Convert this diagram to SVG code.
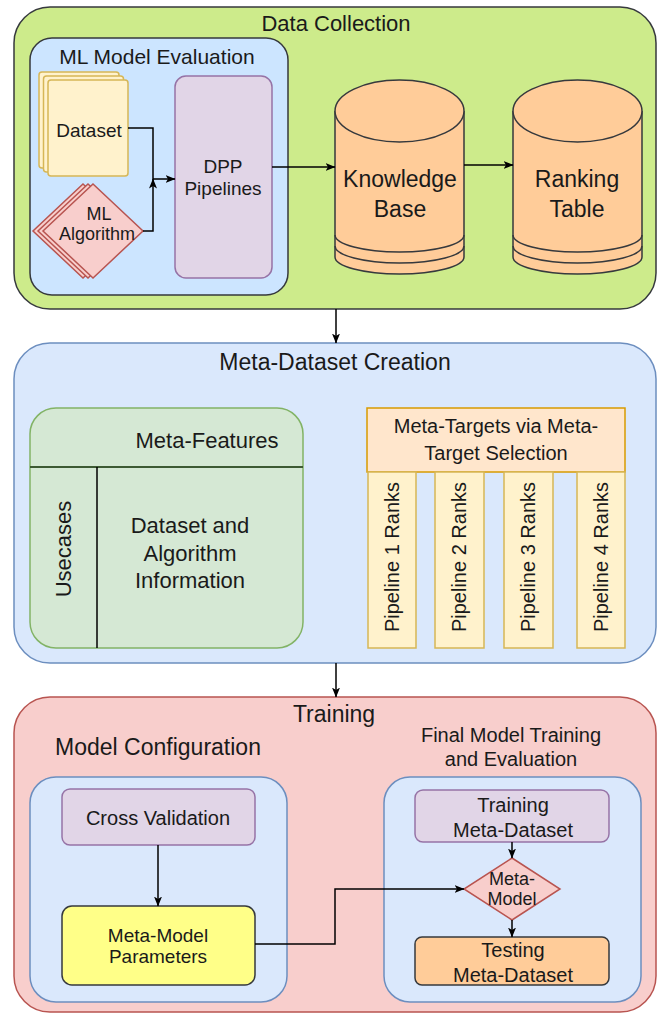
<svg xmlns="http://www.w3.org/2000/svg" width="663" height="1015" viewBox="0 0 663 1015">
  <defs>
    <marker id="arrow" viewBox="0 0 10 8" refX="9.5" refY="4" markerWidth="10" markerHeight="8" markerUnits="userSpaceOnUse" orient="auto">
      <path d="M0,0 L10,4 L0,8 L2.5,4 z" fill="#000"/>
    </marker>
    <style>
      text { font-family: "Liberation Sans", Arial, Helvetica, sans-serif; fill: #1a1a1a; text-anchor: middle; }
      .edge { fill: none; stroke: #000; stroke-width: 1.5; marker-end: url(#arrow); }
      .green { fill: #cdeb8b; stroke: #36393d; stroke-width: 1.5; }
      .blue { fill: #dae8fc; stroke: #6c8ebf; stroke-width: 1.5; }
      .lblue { fill: #cce5ff; stroke: #36393d; stroke-width: 1.5; }
      .red { fill: #f8cecc; stroke: #b85450; stroke-width: 1.5; }
      .purple { fill: #e1d5e7; stroke: #9673a6; stroke-width: 1.5; }
      .yellow { fill: #fff2cc; stroke: #d6b656; stroke-width: 1.5; }
      .orange { fill: #ffcc99; stroke: #36393d; stroke-width: 1.5; }
      .peach { fill: #ffe6cc; stroke: #d79b00; stroke-width: 1.5; }
      .lgreen { fill: #d5e8d4; stroke: #82b366; stroke-width: 1.5; }
      .bright { fill: #ffff88; stroke: #36393d; stroke-width: 1.5; }
    </style>
  </defs>

  <!-- Data Collection stage -->
  <g id="data-collection">
    <rect class="green" x="14" y="7" width="642" height="302" rx="36"/>
    <text x="336" y="31" font-size="22">Data Collection</text>
  </g>
  <g id="ml-model-evaluation">
    <rect class="lblue" x="30" y="38" width="258" height="257" rx="22"/>
    <text x="157" y="64" font-size="21">ML Model Evaluation</text>
  </g>
  <g id="dataset">
    <rect class="yellow" x="39" y="72" width="80" height="96" rx="3"/>
    <rect class="yellow" x="43.5" y="76" width="80" height="96" rx="3"/>
    <rect class="yellow" x="48" y="80" width="80" height="96" rx="3"/>
    <text x="89" y="137" font-size="19">Dataset</text>
  </g>
  <g id="ml-algorithm">
    <polygon class="red" points="83,184 133,231 83,278 33,231"/>
    <polygon class="red" points="88,184 138,231 88,278 38,231"/>
    <polygon class="red" points="93,184 143,231 93,278 43,231"/>
    <text x="99" y="220" font-size="18">ML</text>
    <text x="97" y="240" font-size="18">Algorithm</text>
  </g>
  <g id="dpp-pipelines">
    <rect class="purple" x="175" y="76" width="97" height="202" rx="11"/>
    <text x="223" y="173" font-size="19">DPP</text>
    <text x="223" y="195" font-size="19">Pipelines</text>
  </g>
  <g id="knowledge-base">
    <path class="orange" d="M335,111 A64.5,31 0 0 1 464,111 L464,257 A64.5,17 0 0 1 335,257 Z"/>
    <path class="orange" d="M335,111 A64.5,31 0 0 0 464,111" fill="none"/>
    <path d="M335,235 A64.5,17 0 0 0 464,235 M335,246 A64.5,17 0 0 0 464,246" fill="none" stroke="#36393d" stroke-width="1.5"/>
    <text x="400" y="187" font-size="23">Knowledge</text>
    <text x="400" y="217" font-size="23">Base</text>
  </g>
  <g id="ranking-table">
    <path class="orange" d="M513,111 A64.5,31 0 0 1 642,111 L642,257 A64.5,17 0 0 1 513,257 Z"/>
    <path class="orange" d="M513,111 A64.5,31 0 0 0 642,111" fill="none"/>
    <path d="M513,235 A64.5,17 0 0 0 642,235 M513,246 A64.5,17 0 0 0 642,246" fill="none" stroke="#36393d" stroke-width="1.5"/>
    <text x="577" y="187" font-size="23">Ranking</text>
    <text x="577" y="217" font-size="23">Table</text>
  </g>

  <!-- Meta-Dataset Creation stage -->
  <g id="meta-dataset-creation">
    <rect class="blue" x="14" y="343" width="642" height="320" rx="36"/>
    <text x="335" y="370" font-size="23">Meta-Dataset Creation</text>
  </g>
  <g id="meta-features">
    <rect class="lgreen" x="30" y="408" width="273" height="240" rx="26"/>
    <line x1="30" y1="467" x2="303" y2="467" stroke="#3d5a33" stroke-width="2"/>
    <line x1="97" y1="467" x2="97" y2="648" stroke="#000" stroke-width="1.5"/>
    <text x="207" y="448" font-size="22">Meta-Features</text>
    <text transform="translate(71,549) rotate(-90)" x="0" y="0" font-size="22">Usecases</text>
    <text x="190" y="533" font-size="22">Dataset and</text>
    <text x="190" y="561" font-size="22">Algorithm</text>
    <text x="190" y="588" font-size="22">Information</text>
  </g>
  <g id="meta-targets">
    <rect class="peach" x="367" y="408" width="258" height="64"/>
    <text x="496" y="433" font-size="20">Meta-Targets via Meta-</text>
    <text x="496" y="460" font-size="20">Target Selection</text>
  </g>
  <g id="pipeline-1-ranks">
    <rect class="yellow" x="368" y="472" width="48" height="176"/>
    <text transform="translate(399,557) rotate(-90)" font-size="20">Pipeline 1 Ranks</text>
  </g>
  <g id="pipeline-2-ranks">
    <rect class="yellow" x="435" y="472" width="49" height="176"/>
    <text transform="translate(466,557) rotate(-90)" font-size="20">Pipeline 2 Ranks</text>
  </g>
  <g id="pipeline-3-ranks">
    <rect class="yellow" x="504" y="472" width="49" height="176"/>
    <text transform="translate(535,557) rotate(-90)" font-size="20">Pipeline 3 Ranks</text>
  </g>
  <g id="pipeline-4-ranks">
    <rect class="yellow" x="577" y="472" width="48" height="176"/>
    <text transform="translate(608,557) rotate(-90)" font-size="20">Pipeline 4 Ranks</text>
  </g>

  <!-- Training stage -->
  <g id="training">
    <rect class="red" x="14" y="697" width="642" height="315" rx="36"/>
    <text x="334" y="722" font-size="23">Training</text>
  </g>
  <g id="model-configuration">
    <rect class="blue" x="30" y="777" width="257" height="225" rx="26"/>
    <text x="158" y="755" font-size="23">Model Configuration</text>
  </g>
  <g id="cross-validation">
    <rect class="purple" x="62" y="789" width="193" height="56" rx="8"/>
    <text x="158" y="825" font-size="20">Cross Validation</text>
  </g>
  <g id="meta-model-parameters">
    <rect class="bright" x="62" y="906" width="193" height="79" rx="10"/>
    <text x="158" y="942" font-size="19">Meta-Model</text>
    <text x="158" y="963" font-size="19">Parameters</text>
  </g>
  <g id="final-model-training">
    <rect class="blue" x="384" y="777" width="257" height="225" rx="26"/>
    <text x="511" y="742" font-size="20">Final Model Training</text>
    <text x="511" y="766" font-size="20">and Evaluation</text>
  </g>
  <g id="training-meta-dataset">
    <rect class="purple" x="415" y="790" width="194" height="52" rx="8"/>
    <text x="513" y="812" font-size="20">Training</text>
    <text x="513" y="837" font-size="20">Meta-Dataset</text>
  </g>
  <g id="meta-model">
    <polygon class="red" points="512,858 560,889 512,920 464,889"/>
    <text x="512" y="885" font-size="18">Meta-</text>
    <text x="512" y="905" font-size="18">Model</text>
  </g>
  <g id="testing-meta-dataset">
    <rect class="orange" x="415" y="937" width="194" height="48" rx="7"/>
    <text x="513" y="957" font-size="20">Testing</text>
    <text x="513" y="982" font-size="20">Meta-Dataset</text>
  </g>

  <!-- Connectors -->
  <g id="connectors">
    <path class="edge" d="M128,128 H153 V179 H175"/>
    <path class="edge" d="M143,231 H153 V179"/>
    <path class="edge" d="M272,167 H335"/>
    <path class="edge" d="M464,165 H513"/>
    <path class="edge" d="M336,309 V343"/>
    <path class="edge" d="M336,663 V697"/>
    <path class="edge" d="M158,845 V906"/>
    <path class="edge" d="M255,944 H335 V889 H464"/>
    <path class="edge" d="M512,842 V858"/>
    <path class="edge" d="M512,920 V937"/>
  </g>
</svg>
